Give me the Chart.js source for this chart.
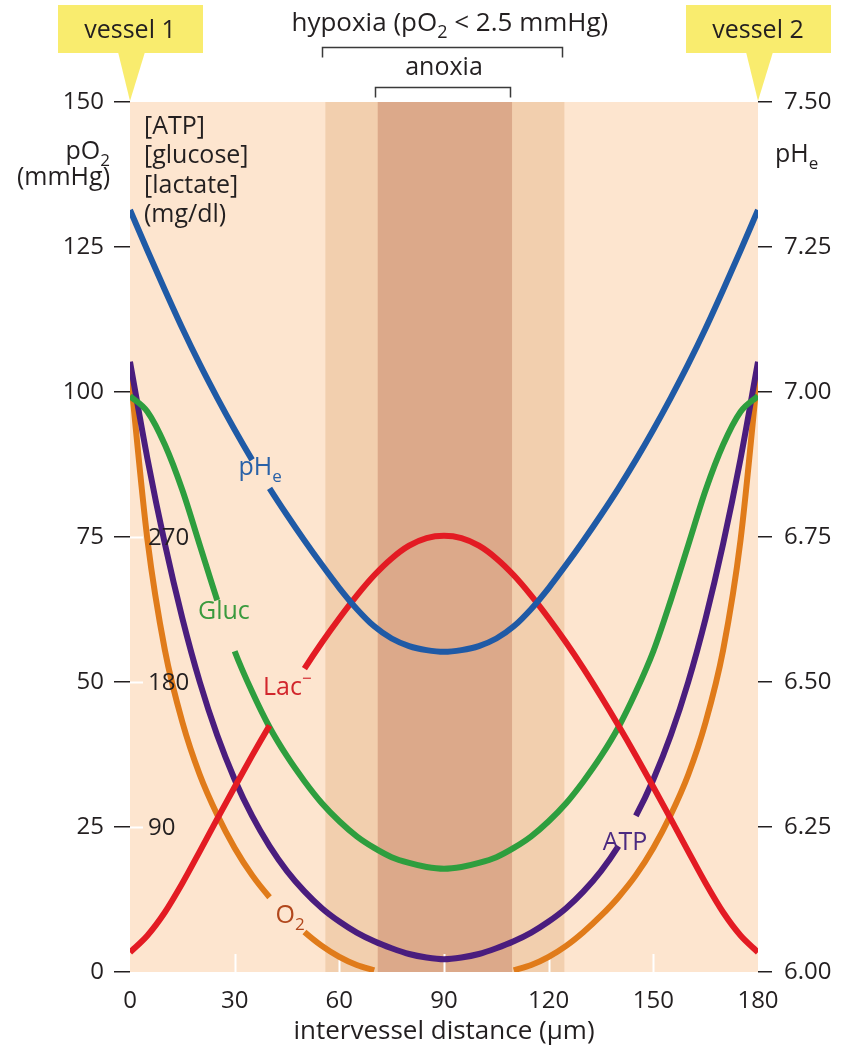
<!DOCTYPE html>
<html>
<head>
<meta charset="utf-8">
<script src="https://cdn.jsdelivr.net/npm/chart.js@4.4.1/dist/chart.umd.min.js"></script>
<style>
  html, body { margin: 0; padding: 0; background: #fff; }
  #wrap { width: 841px; height: 1050px; position: relative; }
</style>
</head>
<body>
<div id="wrap"><canvas id="chart"></canvas></div>
<script>
// intervessel distance (µm)
const distance = [0, 5, 10, 15, 20, 25, 30, 35, 40, 45, 50, 55, 60, 65, 70, 75, 80, 85, 90,
                  95, 100, 105, 110, 115, 120, 125, 130, 135, 140, 145, 150, 155, 160, 165, 170, 175, 180];

// extracellular pH (right axis)
const phValues = [7.314, 7.244, 7.176, 7.110, 7.048, 6.990, 6.935, 6.883, 6.834, 6.788, 6.744, 6.702, 6.662, 6.626, 6.596, 6.575, 6.562, 6.555, 6.552,
                  6.555, 6.562, 6.575, 6.596, 6.626, 6.662, 6.702, 6.744, 6.788, 6.834, 6.883, 6.935, 6.990, 7.048, 7.110, 7.176, 7.244, 7.314];
// lactate, glucose, ATP (left axis, mg/dl scale) and pO2 (mmHg)
const lacValues = [3.4, 6.3, 10.3, 15.3, 20.8, 26.4, 31.9, 37.3, 42.5, 47.5, 52.3, 56.8, 61.0, 64.9, 68.4, 71.3, 73.5, 74.8, 75.2,
                   74.8, 73.5, 71.3, 68.4, 64.9, 61.0, 56.8, 52.3, 47.5, 42.5, 37.3, 31.9, 26.4, 20.8, 15.3, 10.3, 6.3, 3.4];
const glucValues = [99.3, 96.6, 90.9, 83.1, 73.6, 64.1, 55.3, 48.3, 42.2, 37.2, 32.9, 29.1, 26.0, 23.4, 21.4, 19.8, 18.8, 18.1, 17.8,
                    18.1, 18.8, 19.8, 21.4, 23.4, 26.0, 29.1, 32.9, 37.2, 42.2, 48.3, 55.3, 64.1, 73.6, 83.1, 90.9, 96.6, 99.3];
const atpValues = [105.2, 88.5, 73.8, 61.0, 50.0, 40.8, 33.2, 26.9, 21.7, 17.4, 13.9, 11.0, 8.7, 6.8, 5.3, 4.1, 3.1, 2.5, 2.2,
                   2.5, 3.1, 4.1, 5.3, 6.8, 8.7, 11.0, 13.9, 17.4, 21.7, 26.9, 33.2, 40.8, 50.0, 61.0, 73.8, 88.5, 105.2];
const o2Values = [103.8, 74.5, 55.5, 43.1, 34.0, 27.1, 21.4, 16.7, 12.9, 9.7, 6.9, 4.5, 2.6, 1.2, 0.3, null, null, null, null,
                  null, null, null, 0.3, 1.2, 2.6, 4.5, 6.9, 9.7, 12.9, 16.7, 21.4, 27.1, 34.0, 43.1, 55.5, 74.5, 103.8];

// zones (µm)
const hypoxiaZone = [56, 124.5];
const anoxiaZone = [71, 109.5];

// second set of numbers printed inside the left axis
const innerTickValues = [75, 50, 25];
const innerTickLabels = ['270', '180', '90'];

const FONT = "'Open Sans', 'Noto Sans', sans-serif";
const INK = '#231f20';

// draws text made of pieces: [text, ''|'sub'|'sup']
function richText(ctx, parts, x, y, align, size, color) {
  const fontFor = k => (k ? Math.round(size * 0.68) : size) + 'px ' + FONT;
  let w = 0;
  parts.forEach(p => { ctx.font = fontFor(p[1]); w += ctx.measureText(p[0]).width; });
  let cx = align === 'center' ? x - w / 2 : align === 'right' ? x - w : x;
  ctx.fillStyle = color;
  ctx.textAlign = 'left';
  ctx.textBaseline = 'alphabetic';
  parts.forEach(p => {
    ctx.font = fontFor(p[1]);
    const dy = p[1] === 'sub' ? size * 0.28 : p[1] === 'sup' ? -size * 0.45 : 0;
    ctx.fillText(p[0], cx, y + dy);
    cx += ctx.measureText(p[0]).width;
  });
}

function makeSet(label, values, color, axis, gap) {
  return {
    label: label,
    data: distance.map((d, i) => ({ x: d, y: values[i] })),
    yAxisID: axis,
    borderColor: color,
    borderWidth: 6,
    pointRadius: 0,
    fill: false,
    cubicInterpolationMode: 'monotone',
    segment: {
      borderColor: c => (c.p0.parsed.x >= gap[0] && c.p1.parsed.x <= gap[1]) ? 'rgba(0,0,0,0)' : undefined
    }
  };
}

const decorPlugin = {
  id: 'decor',
  beforeDatasetsDraw(chart) {
    const { ctx, chartArea: a, scales: { x, y } } = chart;
    ctx.save();
    ctx.fillStyle = '#fde5cf';
    ctx.fillRect(a.left, a.top, a.right - a.left, a.bottom - a.top);
    ctx.fillStyle = '#f2cfae';
    let x0 = x.getPixelForValue(hypoxiaZone[0]), x1 = x.getPixelForValue(hypoxiaZone[1]);
    ctx.fillRect(x0, a.top, x1 - x0, a.bottom - a.top);
    ctx.fillStyle = '#dca98a';
    x0 = x.getPixelForValue(anoxiaZone[0]); x1 = x.getPixelForValue(anoxiaZone[1]);
    ctx.fillRect(x0, a.top, x1 - x0, a.bottom - a.top);
    // little white ticks inside the plot
    ctx.strokeStyle = '#ffffff';
    ctx.lineWidth = 2;
    [30, 60, 90, 120, 150].forEach(v => {
      const px = Math.round(x.getPixelForValue(v)) + 0.5;
      ctx.beginPath(); ctx.moveTo(px, a.bottom); ctx.lineTo(px, a.bottom - 18); ctx.stroke();
    });
    innerTickValues.forEach(v => {
      const py = Math.round(y.getPixelForValue(v)) + 0.5;
      ctx.beginPath(); ctx.moveTo(a.left, py); ctx.lineTo(a.left + 13, py); ctx.stroke();
    });
    ctx.restore();
  },
  afterDatasetsDraw(chart) {
    const { ctx, scales: { x, y } } = chart;
    ctx.save();
    innerTickValues.forEach((v, i) => {
      ctx.font = '24px ' + FONT;
      ctx.fillStyle = INK;
      ctx.textAlign = 'left';
      ctx.textBaseline = 'middle';
      ctx.fillText(innerTickLabels[i], x.left + 18, y.getPixelForValue(v) + 1);
    });
    // series labels, placed in data units
    const lab = (parts, xv, yv, color) => richText(ctx, parts, x.getPixelForValue(xv), y.getPixelForValue(yv), 'center', 25, color);
    lab([['pH', ''], ['e', 'sub']], 37.3, 85.7, '#2a62a8');
    lab([['Gluc', '']], 26.9, 60.9, '#3a9a3d');
    lab([['Lac', ''], ['\u2212', 'sup']], 45.1, 47.8, '#d2262c');
    lab([['ATP', '']], 141.9, 21.0, '#4b2a80');
    lab([['O', ''], ['2', 'sub']], 45.9, 8.4, '#b1471c');
    ctx.restore();
  },
  afterDraw(chart) {
    const { ctx, chartArea: a, scales: { x } } = chart;
    ctx.save();
    // vessel callouts
    [[0, 'vessel 1'], [180, 'vessel 2']].forEach(([v, txt]) => {
      const tx = x.getPixelForValue(v);
      ctx.fillStyle = '#f9ec6e';
      ctx.fillRect(tx - 72, 5, 145, 48);
      ctx.beginPath();
      ctx.moveTo(tx - 12, 52); ctx.lineTo(tx + 15, 52); ctx.lineTo(tx, a.top - 1); ctx.closePath();
      ctx.fill();
      richText(ctx, [[txt, '']], tx, 38, 'center', 25, INK);
    });
    // hypoxia / anoxia brackets
    ctx.strokeStyle = '#3a3a3a';
    ctx.lineWidth = 1.5;
    const bracket = (zone, yy) => {
      const p0 = Math.round(x.getPixelForValue(zone[0])) - 2.5, p1 = Math.round(x.getPixelForValue(zone[1])) - 1.5;
      ctx.beginPath();
      ctx.moveTo(p0, yy + 10); ctx.lineTo(p0, yy); ctx.lineTo(p1, yy); ctx.lineTo(p1, yy + 10);
      ctx.stroke();
    };
    bracket(hypoxiaZone, 47.5);
    bracket(anoxiaZone, 87.5);
    const mid = (x.getPixelForValue(hypoxiaZone[0]) + x.getPixelForValue(hypoxiaZone[1])) / 2;
    richText(ctx, [['hypoxia (pO', ''], ['2', 'sub'], [' < 2.5 mmHg)', '']], mid + 5, 31, 'center', 26, INK);
    richText(ctx, [['anoxia', '']], x.getPixelForValue(90), 75, 'center', 25, INK);
    // axis captions
    richText(ctx, [['pO', ''], ['2', 'sub']], 110, 159, 'right', 25, INK);
    richText(ctx, [['(mmHg)', '']], 110, 185, 'right', 25, INK);
    ['[ATP]', '[glucose]', '[lactate]', '(mg/dl)'].forEach((t, i) => {
      richText(ctx, [[t, '']], a.left + 14, 134 + i * 29.3, 'left', 25, INK);
    });
    richText(ctx, [['pH', ''], ['e', 'sub']], a.right + 17, 162, 'left', 25, INK);
    ctx.restore();
  }
};

const ctx = document.getElementById('chart').getContext('2d');
const chart = new Chart(ctx, {
  type: 'line',
  data: {
    datasets: [
      makeSet('pHe', phValues, '#1f5aa6', 'y1', [35, 40]),
      makeSet('Lac-', lacValues, '#e31b23', 'y', [40, 50]),
      makeSet('Gluc', glucValues, '#2e9e3e', 'y', [25, 30]),
      makeSet('ATP', atpValues, '#4a1d7e', 'y', [140, 145]),
      makeSet('O2', o2Values, '#e07b1a', 'y', [40, 50])
    ]
  },
  options: {
    responsive: true,
    maintainAspectRatio: false,
    animation: false,
    layout: { padding: { top: 102, left: 0, right: 0, bottom: 0 } },
    plugins: { legend: { display: false }, tooltip: { enabled: false } },
    scales: {
      x: {
        type: 'linear',
        min: 0, max: 180,
        afterFit: s => { s.height = 78; },
        grid: { display: false },
        border: { display: false },
        ticks: { stepSize: 30, padding: 7, color: INK, font: { family: FONT, size: 24 } },
        title: { display: true, text: 'intervessel distance (\u00b5m)', color: INK,
                 font: { family: FONT, size: 26 }, padding: { top: 0, bottom: 3 } }
      },
      y: {
        position: 'left',
        min: 0, max: 150,
        afterFit: s => { s.width = 130; },
        grid: { drawOnChartArea: false, drawTicks: true, tickLength: 16, tickColor: INK, lineWidth: 1.5 },
        border: { display: false },
        ticks: { stepSize: 25, padding: 10, color: INK, font: { family: FONT, size: 24 } }
      },
      y1: {
        position: 'right',
        min: 6, max: 7.5,
        afterFit: s => { s.width = 83; },
        grid: { drawOnChartArea: false, drawTicks: true, tickLength: 14, tickColor: INK, lineWidth: 1.5 },
        border: { display: false },
        ticks: { stepSize: 0.25, padding: 12, color: INK, font: { family: FONT, size: 24 },
                 callback: v => v.toFixed(2) }
      }
    }
  },
  plugins: [decorPlugin]
});
</script>
</body>
</html>
